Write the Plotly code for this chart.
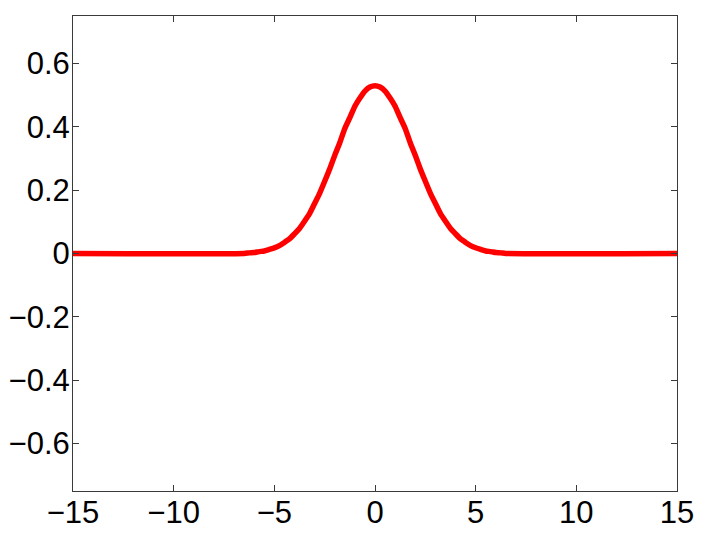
import plotly.graph_objects as go

# Curve values
x_vals = [-15, -6.5, -6.25, -6.0, -5.75, -5.5, -5.25, -5.0, -4.75, -4.5, -4.25, -4.0, -3.75, -3.5,
          -3.25, -3.0, -2.75, -2.5, -2.25, -2.0, -1.75, -1.5, -1.25, -1.0, -0.75, -0.5, -0.25,
          0.0, 0.25, 0.5, 0.75, 1.0, 1.25, 1.5, 1.75, 2.0, 2.25, 2.5, 2.75, 3.0, 3.25, 3.5,
          3.75, 4.0, 4.25, 4.5, 4.75, 5.0, 5.25, 5.5, 5.75, 6.0, 6.25, 6.5, 15]
y_vals = [0.0, 0.0, 0.002, 0.003, 0.006, 0.008, 0.013, 0.018, 0.025, 0.035, 0.046, 0.062, 0.079, 0.102,
          0.126, 0.158, 0.190, 0.228, 0.267, 0.310, 0.350, 0.395, 0.429, 0.465, 0.491, 0.513, 0.526,
          0.530, 0.526, 0.513, 0.491, 0.465, 0.429, 0.395, 0.350, 0.310, 0.267, 0.228, 0.190, 0.158,
          0.126, 0.102, 0.079, 0.062, 0.046, 0.035, 0.025, 0.018, 0.013, 0.008, 0.006, 0.003, 0.002,
          0.0, 0.0]

x_ticks = [-15, -10, -5, 0, 5, 10, 15]
y_ticks = [-0.6, -0.4, -0.2, 0, 0.2, 0.4, 0.6]

fig = go.Figure()
fig.add_trace(go.Scatter(
    x=x_vals, y=y_vals, mode="lines",
    line=dict(color="#ff0000", width=5.5, shape="spline", smoothing=0.5),
    showlegend=False, hoverinfo="skip",
))

axis_common = dict(
    showgrid=False, zeroline=False, automargin=False,
    showline=True, linecolor="#3a3a3a", linewidth=1,
    mirror="ticks", ticks="inside", ticklen=6, tickcolor="#3a3a3a", tickwidth=1,
    tickfont=dict(family="Liberation Sans, Arial, sans-serif", size=31, color="#000000"),
)

# page body has an 8px default margin, so the figure is sized/offset to compensate
fig.update_layout(
    width=689, height=524,
    margin=dict(l=65, r=20, t=8, b=41),
    paper_bgcolor="white", plot_bgcolor="white",
    xaxis=dict(range=[-15, 15], tickvals=x_ticks, ticklabelstandoff=-6, **axis_common),
    yaxis=dict(range=[-0.75, 0.75], tickvals=y_ticks, ticklabelstandoff=-4, **axis_common),
)

fig.write_html("out.html")
